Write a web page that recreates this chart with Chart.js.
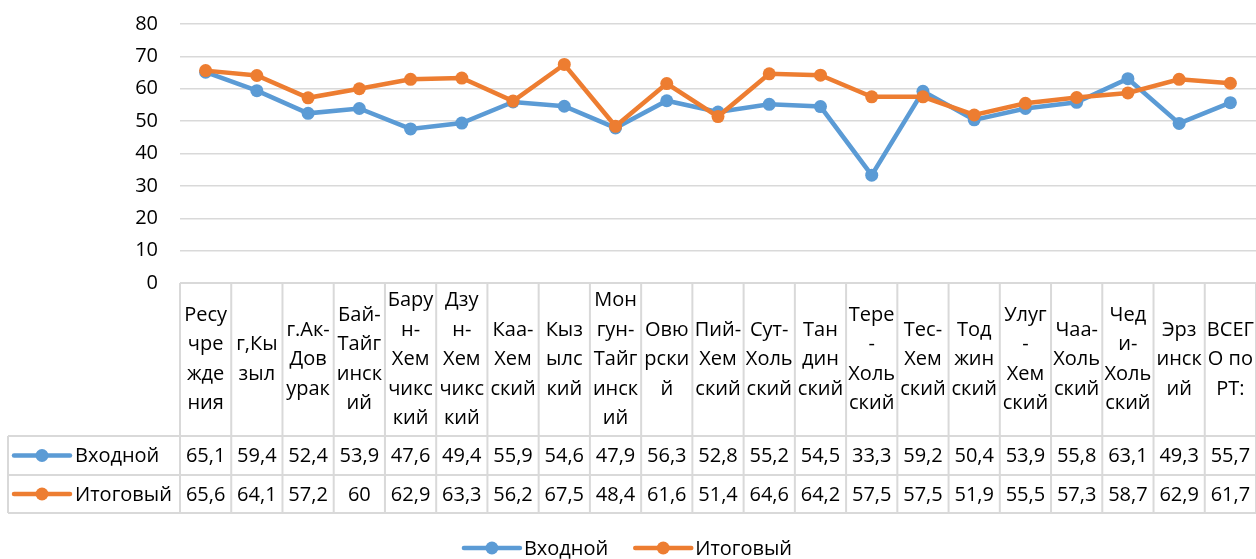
<!DOCTYPE html>
<html>
<head>
<meta charset="utf-8">
<script src="https://cdn.jsdelivr.net/npm/chart.js@4"></script>
<style>
  body { margin: 0; background: #fff; }
</style>
</head>
<body>
<canvas id="graf" width="1256" height="559"></canvas>
<script>
// kategorie (rozdělené na řádky jako v tabulce)
var kategorie = [
  ["Ресу", "чре", "жде", "ния"],
  ["г,Кы", "зыл"],
  ["г.Ак-", "Дов", "урак"],
  ["Бай-", "Тайг", "инск", "ий"],
  ["Бару", "н-", "Хем", "чикс", "кий"],
  ["Дзу", "н-", "Хем", "чикс", "кий"],
  ["Каа-", "Хем", "ский"],
  ["Кыз", "ылс", "кий"],
  ["Мон", "гун-", "Тайг", "инск", "ий"],
  ["Овю", "рски", "й"],
  ["Пий-", "Хем", "ский"],
  ["Сут-", "Холь", "ский"],
  ["Тан", "дин", "ский"],
  ["Тере", "-", "Холь", "ский"],
  ["Тес-", "Хем", "ский"],
  ["Тод", "жин", "ский"],
  ["Улуг", "-", "Хем", "ский"],
  ["Чаа-", "Холь", "ский"],
  ["Чед", "и-", "Холь", "ский"],
  ["Эрз", "инск", "ий"],
  ["ВСЕГ", "О по", "РТ:"]
];
var vhodnoy = [65.1, 59.4, 52.4, 53.9, 47.6, 49.4, 55.9, 54.6, 47.9, 56.3, 52.8, 55.2, 54.5, 33.3, 59.2, 50.4, 53.9, 55.8, 63.1, 49.3, 55.7];
var itogovy = [65.6, 64.1, 57.2, 60, 62.9, 63.3, 56.2, 67.5, 48.4, 61.6, 51.4, 64.6, 64.2, 57.5, 57.5, 51.9, 55.5, 57.3, 58.7, 62.9, 61.7];
var nazvy = ["Входной", "Итоговый"];
var barvy = ["#5b9bd5", "#ed7d31"];
var yTicks = [0, 10, 20, 30, 40, 50, 60, 70, 80];

var pismo = "'Open Sans', sans-serif";
var velikost = 20;

function klic(ctx, x, y, barva) {
  ctx.strokeStyle = barva;
  ctx.lineWidth = 4.5;
  ctx.lineCap = "round";
  ctx.beginPath();
  ctx.moveTo(x, y);
  ctx.lineTo(x + 56, y);
  ctx.stroke();
  ctx.fillStyle = barva;
  ctx.beginPath();
  ctx.arc(x + 28, y, 6.5, 0, Math.PI * 2);
  ctx.fill();
}

// tabulka s daty + legenda
var tabulka = {
  id: "tabulka",
  afterDraw: function (chart) {
    var ctx = chart.ctx;
    var xs = chart.scales.x;
    var area = chart.chartArea;
    var n = kategorie.length;
    var w = (area.right - area.left) / n;
    var top = area.bottom;
    var r1 = 436, r2 = 475, r3 = 513;
    var levy = 8;

    ctx.save();
    ctx.strokeStyle = "#d9d9d9";
    ctx.lineWidth = 2;
    ctx.beginPath();
    ctx.moveTo(area.left, top);
    ctx.lineTo(chart.width, top);
    [r1, r2, r3].forEach(function (y) {
      ctx.moveTo(levy, y);
      ctx.lineTo(chart.width, y);
    });
    ctx.moveTo(levy, r1);
    ctx.lineTo(levy, r3);
    for (var k = 0; k <= n; k++) {
      var x = area.left + k * w;
      ctx.moveTo(x, top);
      ctx.lineTo(x, r3);
    }
    ctx.stroke();

    ctx.font = velikost + "px " + pismo;
    ctx.fillStyle = "#000";
    ctx.textAlign = "center";
    ctx.textBaseline = "middle";
    var lh = 29.5;
    var stred = (top + r1) / 2;
    for (var i = 0; i < n; i++) {
      var cx = xs.getPixelForValue(i);
      var radky = kategorie[i];
      var y0 = stred - (radky.length - 1) * lh / 2;
      for (var j = 0; j < radky.length; j++) {
        ctx.fillText(radky[j], cx, y0 + j * lh);
      }
      ctx.fillText(String(vhodnoy[i]).replace(".", ","), cx, (r1 + r2) / 2 + 1);
      ctx.fillText(String(itogovy[i]).replace(".", ","), cx, (r2 + r3) / 2 + 1);
    }

    // klíče v tabulce
    var radkyY = [(r1 + r2) / 2, (r2 + r3) / 2];
    for (var d = 0; d < 2; d++) {
      klic(ctx, 14, radkyY[d], barvy[d]);
      ctx.fillStyle = "#000";
      ctx.textAlign = "left";
      ctx.fillText(nazvy[d], 75, radkyY[d] + 1);
    }

    // legenda dole
    var w1 = ctx.measureText(nazvy[0]).width;
    var w2 = ctx.measureText(nazvy[1]).width;
    var celk = 56 + 4 + w1 + 27 + 56 + 4 + w2;
    var lx = chart.width / 2 - celk / 2;
    var ly = 548;
    klic(ctx, lx, ly, barvy[0]);
    ctx.fillStyle = "#000";
    ctx.fillText(nazvy[0], lx + 60, ly + 1);
    lx += 60 + w1 + 27;
    klic(ctx, lx, ly, barvy[1]);
    ctx.fillStyle = "#000";
    ctx.fillText(nazvy[1], lx + 60, ly + 1);
    ctx.restore();
  }
};

var graf = document.getElementById("graf").getContext("2d");
var SF = new Chart(graf, {
  type: "line",
  data: {
    labels: kategorie,
    datasets: [
      {
        label: nazvy[0],
        data: vhodnoy,
        borderColor: barvy[0],
        backgroundColor: barvy[0],
        borderWidth: 4.5,
        pointRadius: 6.5,
        pointBorderWidth: 0,
        tension: 0,
        order: 1
      },
      {
        label: nazvy[1],
        data: itogovy,
        borderColor: barvy[1],
        backgroundColor: barvy[1],
        borderWidth: 4.5,
        pointRadius: 6.5,
        pointBorderWidth: 0,
        tension: 0,
        order: 0
      }
    ]
  },
  options: {
    responsive: false,
    animation: false,
    layout: { autoPadding: false, padding: { top: 24, left: 0, right: 0, bottom: 0 } },
    plugins: {
      legend: { display: false },
      tooltip: { enabled: false }
    },
    scales: {
      x: {
        offset: true,
        grid: { display: false },
        border: { display: false },
        ticks: { display: false },
        afterFit: function (s) { s.height = 276; s.paddingLeft = 0; s.paddingRight = 0; }
      },
      y: {
        min: 0,
        max: 80,
        afterBuildTicks: function (s) {
          s.ticks = yTicks.map(function (v) { return { value: v }; });
        },
        grid: { color: "#d9d9d9", lineWidth: 1.5, drawTicks: false },
        border: { display: false },
        ticks: {
          color: "#000",
          padding: 22,
          font: { family: pismo, size: velikost }
        },
        afterFit: function (s) { s.width = 180; s.paddingTop = 0; s.paddingBottom = 0; }
      }
    }
  },
  plugins: [tabulka]
});
</script>
</body>
</html>
